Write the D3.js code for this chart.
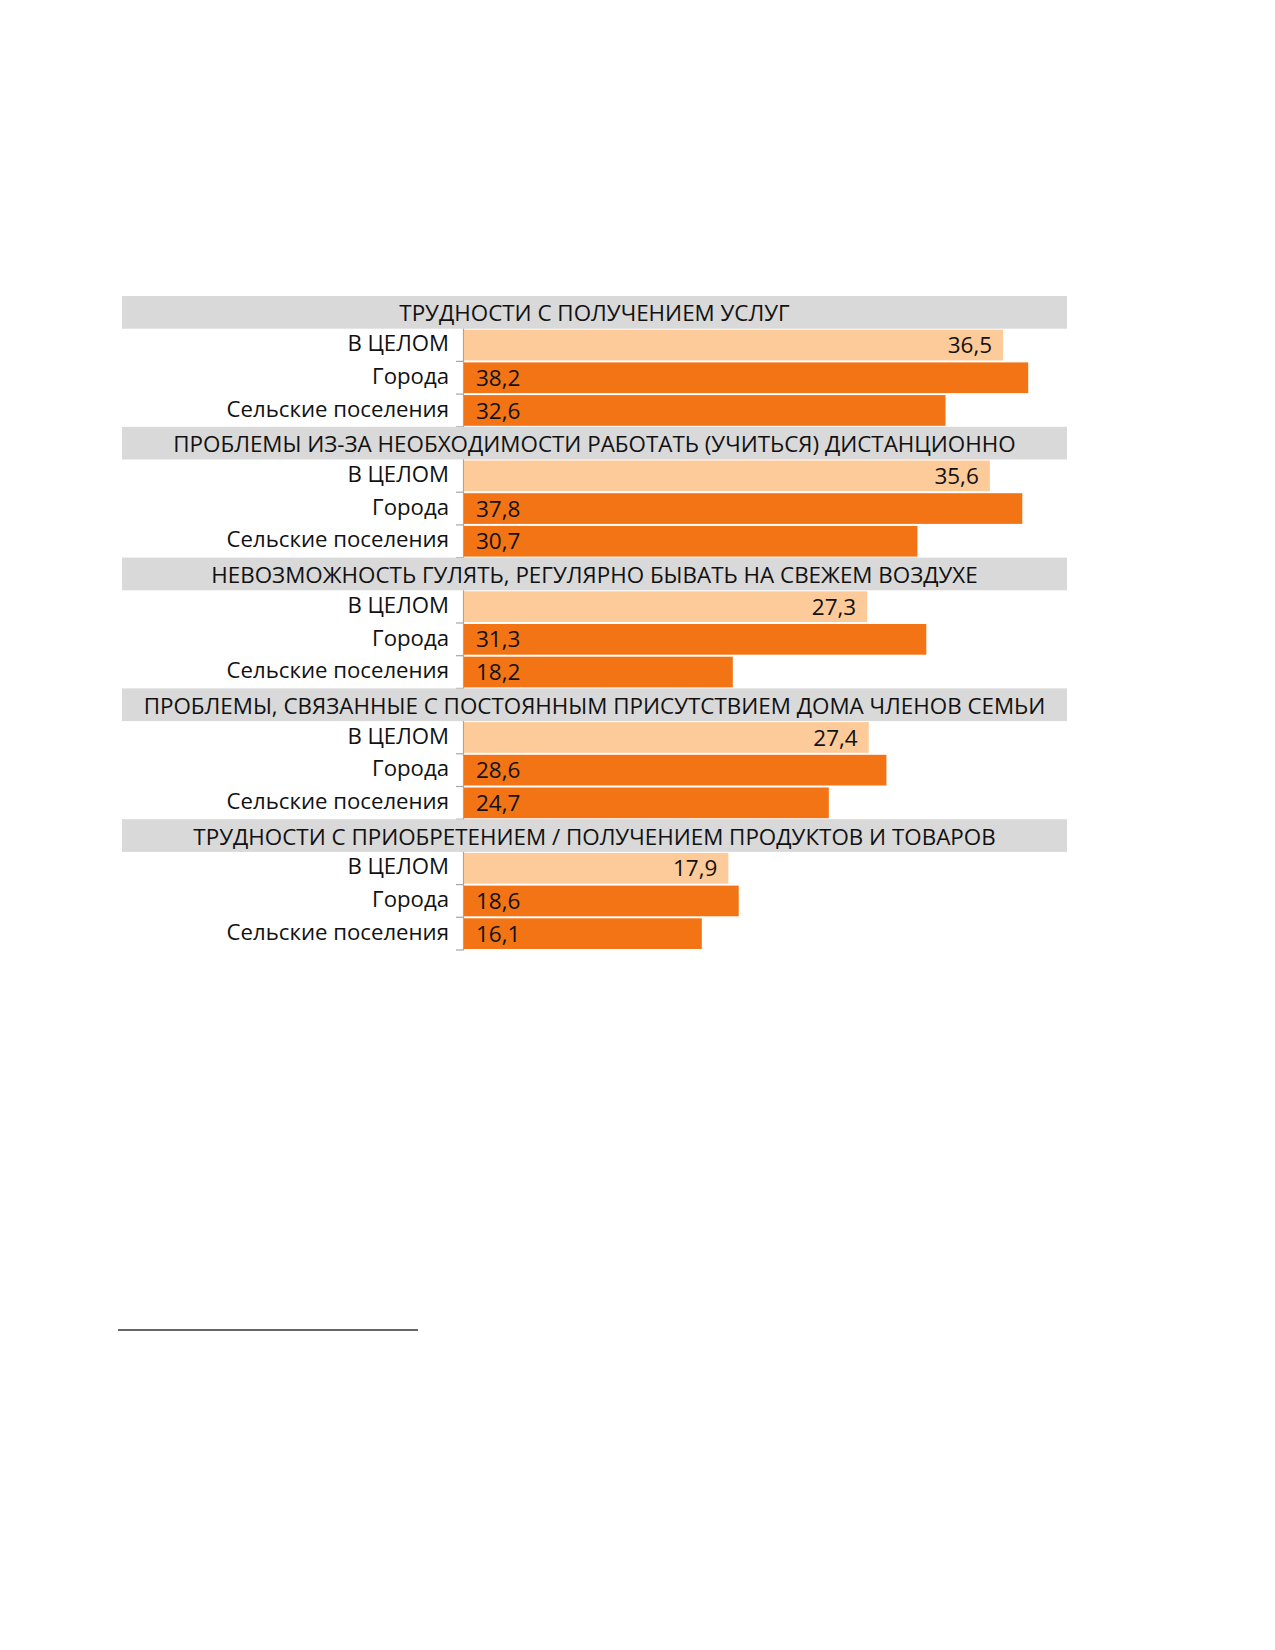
<!DOCTYPE html>
<html>
<head>
<meta charset="utf-8">
<script src="https://cdn.jsdelivr.net/npm/d3@7"></script>
<style>
  body { margin: 0; background: #fff; }
  svg text { font-family: "Open Sans", "DejaVu Sans", sans-serif; fill: #111; }
</style>
</head>
<body>
<div id="chart-area"></div>
<script>
const groups = [
  "ТРУДНОСТИ С ПОЛУЧЕНИЕМ УСЛУГ",
  "ПРОБЛЕМЫ ИЗ-ЗА НЕОБХОДИМОСТИ РАБОТАТЬ (УЧИТЬСЯ)  ДИСТАНЦИОННО",
  "НЕВОЗМОЖНОСТЬ ГУЛЯТЬ, РЕГУЛЯРНО БЫВАТЬ НА СВЕЖЕМ ВОЗДУХЕ",
  "ПРОБЛЕМЫ, СВЯЗАННЫЕ С ПОСТОЯННЫМ ПРИСУТСТВИЕМ ДОМА ЧЛЕНОВ СЕМЬИ",
  "ТРУДНОСТИ С ПРИОБРЕТЕНИЕМ / ПОЛУЧЕНИЕМ ПРОДУКТОВ И ТОВАРОВ"
]
const seriesNames = ["В ЦЕЛОМ", "Города", "Сельские поселения"]
const total = [36.5, 35.6, 27.3, 27.4, 17.9]
const cities = [38.2, 37.8, 31.3, 28.6, 18.6]
const rural = [32.6, 30.7, 18.2, 24.7, 16.1]

const W = 1275, H = 1650
const AXIS_X = 463
const PANEL = { LEFT: 122, RIGHT: 1067 }

const svg = d3.select("#chart-area").append("svg")
  .attr("width", W)
  .attr("height", H)

// one row per header and per bar
const rows = []
groups.forEach((g, i) => {
  rows.push({ id: "h" + i, type: "header", text: g })
  const vals = [total[i], cities[i], rural[i]]
  seriesNames.forEach((s, j) => {
    rows.push({ id: "r" + i + "_" + j, type: "bar", label: s, value: vals[j], series: j })
  })
})

const y = d3.scaleBand()
  .domain(rows.map(d => d.id))
  .range([296, 950])
  .paddingInner(0)

const x = d3.scaleLinear()
  .domain([0, 40])
  .range([AXIS_X + 1, AXIS_X + 1 + 40 * 14.77])

const barRows = rows.filter(d => d.type === "bar")
const headRows = rows.filter(d => d.type === "header")

// axis line
svg.append("g")
  .attr("transform", `translate(${AXIS_X}, 0)`)
  .call(d3.axisLeft(y).tickSize(0).tickFormat(""))
  .call(g => g.select(".domain").attr("stroke", "#a6a6a6").attr("stroke-width", 1.2))

// ticks on row boundaries
svg.append("g")
  .selectAll("line")
  .data(barRows)
  .enter().append("line")
    .attr("x1", AXIS_X - 7)
    .attr("x2", AXIS_X)
    .attr("y1", d => y(d.id) + y.bandwidth())
    .attr("y2", d => y(d.id) + y.bandwidth())
    .attr("stroke", "#a6a6a6")
    .attr("stroke-width", 1.2)

// bars
svg.append("g")
  .selectAll("rect")
  .data(barRows)
  .enter().append("rect")
    .attr("x", x(0))
    .attr("y", d => y(d.id) + 1)
    .attr("width", d => x(d.value) - x(0))
    .attr("height", y.bandwidth() - 2)
    .attr("fill", d => d.series === 0 ? "#fdcb9a" : "#f37415")

// header bands
svg.append("g")
  .selectAll("rect")
  .data(headRows)
  .enter().append("rect")
    .attr("x", PANEL.LEFT)
    .attr("y", d => y(d.id))
    .attr("width", PANEL.RIGHT - PANEL.LEFT)
    .attr("height", y.bandwidth())
    .attr("fill", "#d9d9d9")

svg.append("g")
  .selectAll("text")
  .data(headRows)
  .enter().append("text")
    .attr("x", (PANEL.LEFT + PANEL.RIGHT) / 2)
    .attr("y", d => y(d.id) + y.bandwidth() / 2)
    .attr("dy", "0.4em")
    .attr("text-anchor", "middle")
    .style("font-size", "22.4px")
    .text(d => d.text)

// category labels
svg.append("g")
  .selectAll("text")
  .data(barRows)
  .enter().append("text")
    .attr("x", AXIS_X - 14)
    .attr("y", d => y(d.id) + y.bandwidth() / 2)
    .attr("dy", "0.28em")
    .attr("text-anchor", "end")
    .style("font-size", "22.2px")
    .text(d => d.label)

// value labels: inside end for total, inside base for the others
svg.append("g")
  .selectAll("text")
  .data(barRows)
  .enter().append("text")
    .attr("x", d => d.series === 0 ? x(d.value) - 11 : x(0) + 12)
    .attr("y", d => y(d.id) + y.bandwidth() / 2)
    .attr("dy", "0.36em")
    .attr("text-anchor", d => d.series === 0 ? "end" : "start")
    .style("font-size", "22.5px")
    .text(d => d3.format(".1f")(d.value).replace(".", ","))

// footnote separator
svg.append("line")
  .attr("x1", 118)
  .attr("x2", 418)
  .attr("y1", 1330)
  .attr("y2", 1330)
  .attr("stroke", "#333")
  .attr("stroke-width", 1.5)
</script>
</body>
</html>
